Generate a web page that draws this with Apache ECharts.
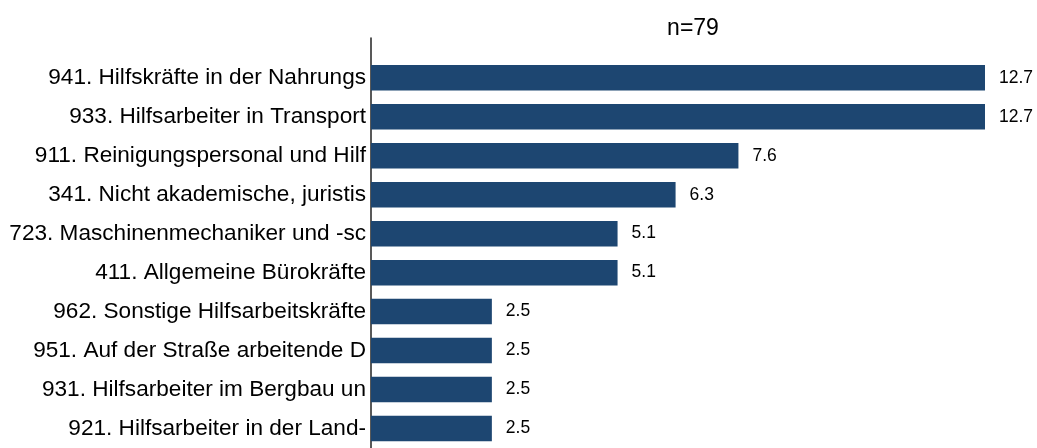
<!DOCTYPE html>
<html>
<head>
<meta charset="utf-8">
<style>
  html, body { margin: 0; padding: 0; background: #ffffff; }
  #chart { width: 1037px; height: 448px; }
</style>
<script src="https://cdn.jsdelivr.net/npm/echarts@6/dist/echarts.min.js"></script>
</head>
<body>
<div id="chart"></div>
<script>
// Occupation groups (ISCO-08 codes), top to bottom
const categories = [
  '941. Hilfskräfte in der Nahrungs',
  '933. Hilfsarbeiter in Transport',
  '911. Reinigungspersonal und Hilf',
  '341. Nicht akademische, juristis',
  '723. Maschinenmechaniker und -sc',
  '411. Allgemeine Bürokräfte',
  '962. Sonstige Hilfsarbeitskräfte',
  '951. Auf der Straße arbeitende D',
  '931. Hilfsarbeiter im Bergbau un',
  '921. Hilfsarbeiter in der Land-'
];

// Share of respondents in percent
const shares = [12.7, 12.7, 7.6, 6.3, 5.1, 5.1, 2.5, 2.5, 2.5, 2.5];

const sampleLabel = 'n=79';

const FONT = '"Liberation Sans", Arial, Helvetica, sans-serif';
const BAR_COLOR = '#1d4671';

const chart = echarts.init(document.getElementById('chart'), null, { renderer: 'canvas' });

chart.setOption({
  animation: false,
  backgroundColor: '#ffffff',
  title: {
    text: sampleLabel,
    left: 688,
    top: 12,
    textAlign: 'center',
    textStyle: { fontFamily: FONT, fontSize: 23, fontWeight: 'normal', color: '#000000' }
  },
  grid: [
    // bars
    { left: 371, right: 37.5, top: 58.3, bottom: -4.7, containLabel: false },
    // vertical axis rule, runs from above the first bar to the bottom edge
    { left: 371, right: 37.5, top: 38, bottom: 0, containLabel: false }
  ],
  xAxis: [
    { type: 'value', gridIndex: 0, min: 0, max: 13, show: false, splitLine: { show: false } },
    { type: 'value', gridIndex: 1, min: 0, max: 1, show: false, splitLine: { show: false } }
  ],
  yAxis: [
    {
      type: 'category',
      gridIndex: 0,
      inverse: true,
      data: categories,
      axisLine: { show: false },
      axisTick: { show: false },
      splitLine: { show: false },
      axisLabel: {
        margin: 5,
        fontFamily: FONT,
        fontSize: 22.6,
        color: '#000000'
      }
    },
    {
      type: 'value',
      gridIndex: 1,
      min: 0,
      max: 1,
      axisLine: { show: true, onZero: false, lineStyle: { color: '#222222', width: 1.5 } },
      axisTick: { show: false },
      axisLabel: { show: false },
      splitLine: { show: false }
    }
  ],
  series: [
    {
      type: 'bar',
      xAxisIndex: 0,
      yAxisIndex: 0,
      data: shares,
      barWidth: 25.5,
      itemStyle: { color: BAR_COLOR },
      label: {
        show: true,
        position: 'right',
        distance: 14,
        fontFamily: FONT,
        fontSize: 17.5,
        color: '#000000',
        formatter: (p) => p.value.toFixed(1)
      }
    }
  ]
});
</script>
</body>
</html>
